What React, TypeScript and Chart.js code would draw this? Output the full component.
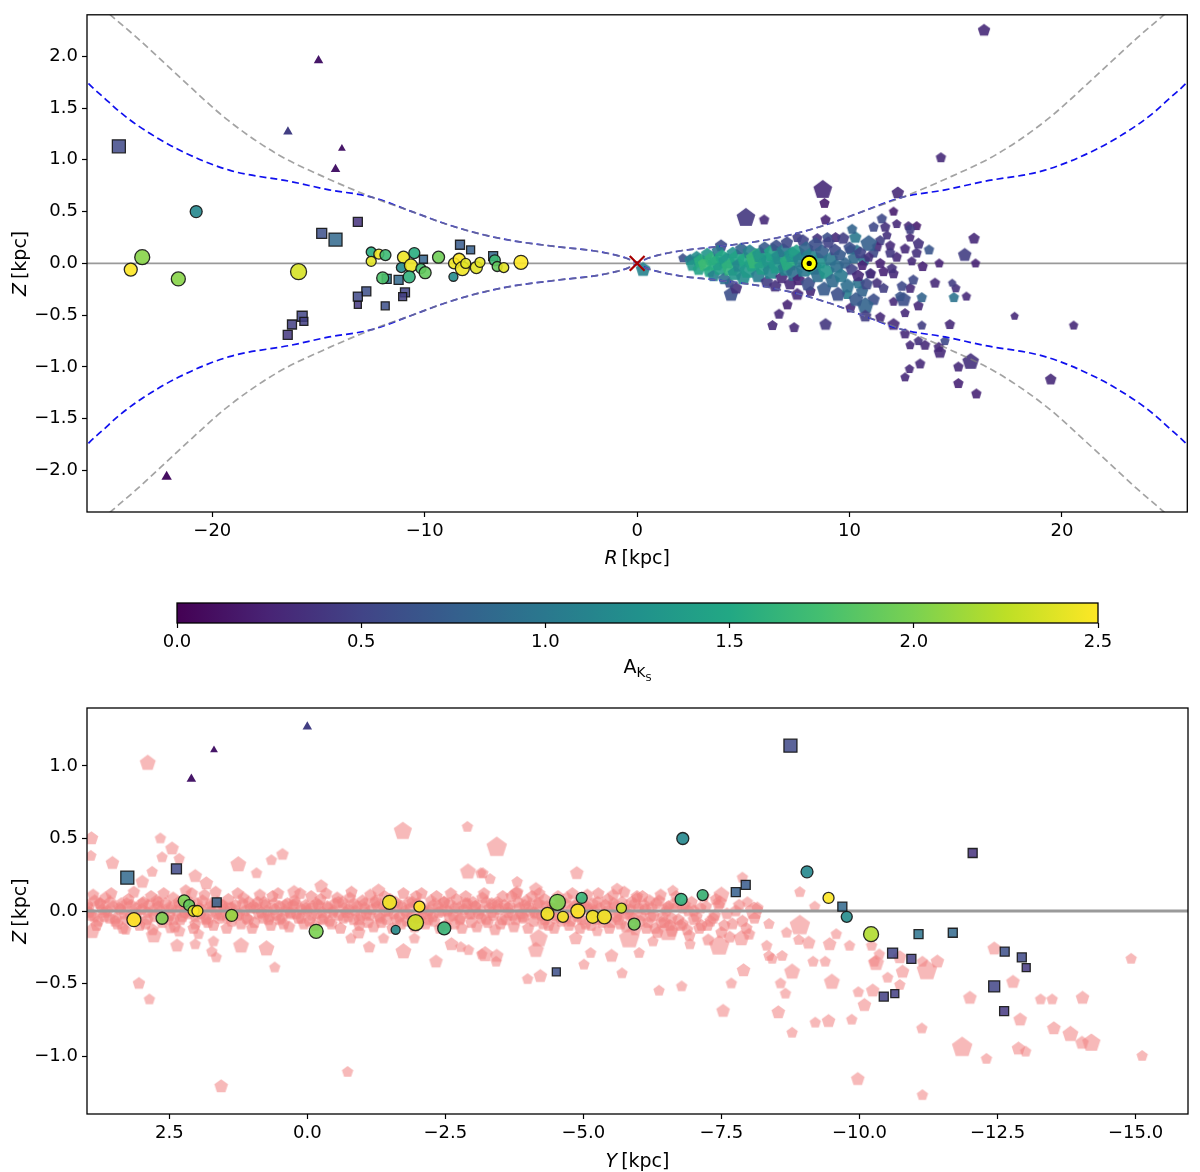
import { useEffect, useRef } from "react";
import Chart from "chart.js/auto";

const FONT = "'DejaVu Sans', 'Liberation Sans', sans-serif";
const TICK_SIZE = 18;
const TITLE_SIZE = 19;

// axis limits and tick values
const rLimits = [-25.9, 25.9];
const zLimitsTop = [-2.4, 2.4];
const yLimits = [-15.95, 3.99];
const zLimitsBottom = [-1.4, 1.4];
const akLimits = [0, 2.5];
const rTicks = [-20, -10, 0, 10, 20];
const zTicksTop = [-2, -1.5, -1, -0.5, 0, 0.5, 1, 1.5, 2];
const yTicks = [2.5, 0, -2.5, -5, -7.5, -10, -12.5, -15];
const zTicksBottom = [-1, -0.5, 0, 0.5, 1];
const akTicks = [0, 0.5, 1, 1.5, 2, 2.5];

// boundary curves, R <= 0 half (mirrored for R > 0 and for Z < 0)
const grayCurveR = [-25.6, -24.8, -23.5, -21.6, -19.25, -16.9, -14.8, -12.5, -10.6, -9.0, -7.5, -5.9, -3.7, -2.0, -1.0, -0.5, 0];
const grayCurveZ = [2.55, 2.4, 2.17, 1.81, 1.38, 1.05, 0.84, 0.64, 0.5, 0.38, 0.29, 0.22, 0.16, 0.12, 0.08, 0.05, 0.01];
const blueCurveR = [-26.5, -25.8, -25.1, -24.4, -23.5, -21.6, -19.2, -16.3, -14.5, -12.5, -10.6, -9.0, -7.5, -5.9, -3.7, -2.0, -1.0, -0.5, 0];
const blueCurveZ = [1.9, 1.73, 1.6, 1.47, 1.33, 1.1, 0.9, 0.79, 0.71, 0.64, 0.5, 0.38, 0.29, 0.22, 0.16, 0.12, 0.08, 0.05, 0.01];

// Galactic centre and Sun
const gcR = [0];
const gcZ = [0];
const sunR = [8.1];
const sunZ = [0];

// top panel: [R, Z, A_Ks, size]
const topCircles = [
  [-23.84, -0.06, 2.5, 6.5], [-23.3, 0.06, 2.05, 7.5], [-21.6, -0.15, 2.05, 7], [-20.76, 0.5, 1.15, 6],
  [-15.94, -0.08, 2.35, 8], [-12.52, 0.11, 1.55, 5], [-12.52, 0.02, 2.4, 5], [-12.16, 0.09, 2.45, 5],
  [-11.85, 0.08, 1.7, 5.5], [-11.98, -0.14, 1.8, 6], [-11.0, 0.06, 2.45, 6], [-11.1, -0.04, 1.2, 5],
  [-10.65, -0.02, 2.45, 6.5], [-10.49, 0.1, 1.55, 5.5], [-10.73, -0.13, 1.6, 6], [-10.18, -0.05, 1.75, 5],
  [-9.98, -0.09, 1.9, 6], [-9.35, 0.06, 1.95, 6], [-8.65, -0.13, 1.2, 4.5], [-8.62, 0.0, 2.45, 5.5],
  [-8.38, 0.04, 2.5, 6], [-8.23, -0.05, 2.45, 7], [-8.07, 0.0, 2.4, 5], [-7.57, -0.04, 2.4, 6],
  [-7.4, 0.01, 2.4, 5], [-6.7, 0.03, 1.7, 5.5], [-6.59, -0.03, 1.9, 5], [-6.28, -0.04, 2.4, 5],
  [-5.47, 0.01, 2.5, 7],
];

const topSquares = [
  [-24.4, 1.13, 0.55, 13], [-13.15, 0.4, 0.35, 9], [-14.85, 0.29, 0.6, 10], [-14.2, 0.23, 0.85, 13],
  [-8.34, 0.18, 0.7, 9], [-7.84, 0.13, 0.75, 8], [-6.78, 0.07, 0.85, 9], [-10.06, 0.04, 0.8, 8],
  [-11.79, -0.15, 0.95, 9], [-11.23, -0.16, 0.85, 9], [-12.75, -0.27, 0.6, 9], [-13.15, -0.32, 0.55, 9],
  [-13.15, -0.4, 0.4, 7], [-11.86, -0.41, 0.6, 8], [-10.93, -0.28, 0.5, 9], [-11.04, -0.32, 0.45, 8],
  [-15.77, -0.51, 0.5, 10], [-15.69, -0.56, 0.45, 8], [-16.25, -0.59, 0.45, 9], [-16.45, -0.69, 0.4, 9],
];

const topTriangles = [
  [-22.15, -2.06, 0.1, 6], [-16.44, 1.27, 0.45, 5.5], [-15.0, 1.96, 0.15, 5.5], [-13.9, 1.11, 0.15, 4.5],
  [-14.2, 0.91, 0.15, 5.5],
];

const topPentagons = [
  [8.74, 0.71, 0.3, 9], [8.82, 0.58, 0.2, 5], [5.12, 0.44, 0.4, 9], [5.98, 0.42, 0.3, 5], [8.87, 0.42, 0.25, 5],
  [12.27, 0.68, 0.3, 6], [12.07, 0.5, 0.2, 4.5], [11.52, 0.43, 0.55, 5], [15.86, 0.24, 0.3, 5.5], [15.42, 0.08, 0.45, 6.5],
  [15.93, 0.0, 0.25, 4.5], [14.22, 0.0, 0.25, 4.5], [14.91, -0.33, 0.95, 5], [15.5, -0.32, 0.3, 4.5], [15.0, -0.24, 0.35, 4.5],
  [14.83, -0.19, 0.45, 4], [14.02, -0.19, 0.3, 5], [14.72, -0.59, 0.3, 5], [15.7, -0.95, 0.35, 8], [15.12, -1.0, 0.3, 5],
  [15.12, -1.16, 0.25, 5], [15.97, -1.26, 0.25, 5], [14.25, -0.86, 0.3, 6], [14.49, -0.75, 0.55, 4.5], [13.55, -0.79, 0.3, 5],
  [13.32, -0.97, 0.3, 5], [12.82, -1.02, 0.3, 4.5], [12.61, -1.1, 0.3, 4.5], [12.85, -0.79, 0.3, 4.5], [12.61, -0.68, 0.3, 5],
  [13.24, -0.75, 0.35, 4.5], [12.07, -0.59, 0.3, 6], [13.24, -0.41, 0.3, 5], [13.4, -0.6, 0.45, 4.5], [12.61, -0.48, 0.3, 4.5],
  [12.85, -0.24, 0.3, 5], [13.0, -0.16, 0.55, 5], [13.4, -0.33, 0.8, 5], [12.54, -0.35, 0.6, 7], [12.07, -0.37, 0.3, 4.5],
  [12.46, -0.22, 0.55, 5], [12.07, -0.1, 0.3, 5], [12.93, 0.02, 0.3, 4.5], [13.44, -0.03, 0.25, 5], [13.74, 0.13, 0.65, 5],
  [13.24, 0.19, 0.35, 5.5], [12.85, 0.25, 0.3, 4.5], [13.16, 0.1, 0.35, 5], [12.61, 0.14, 0.3, 5], [12.22, 0.06, 0.3, 5],
  [12.77, 0.36, 0.3, 4.5], [13.16, 0.36, 0.2, 4.5], [12.85, 0.33, 0.45, 5], [11.13, 0.35, 0.55, 5], [11.68, 0.35, 0.35, 5],
  [12.22, 0.38, 0.3, 4.5], [11.76, 0.27, 0.35, 4.5], [11.44, 0.22, 0.45, 5], [11.91, 0.17, 0.3, 5], [11.29, 0.16, 0.3, 5],
  [11.91, 0.1, 0.4, 5], [11.44, 0.0, 0.25, 5], [11.99, -0.05, 0.35, 5], [11.6, -0.08, 0.25, 5], [11.13, 0.1, 0.55, 5],
  [10.9, 0.19, 0.75, 8], [10.27, 0.25, 1.0, 6], [10.35, 0.13, 0.95, 5], [10.67, 0.03, 0.95, 6], [10.04, 0.13, 0.85, 5],
  [10.12, 0.33, 0.8, 5], [10.97, -0.1, 0.6, 5], [11.29, -0.19, 0.35, 5], [11.6, -0.24, 0.45, 5], [11.13, -0.35, 0.6, 6],
  [12.38, -0.32, 0.65, 5], [10.74, -0.41, 0.8, 8], [10.74, -0.51, 0.45, 6], [11.44, -0.52, 0.3, 5], [10.04, -0.43, 0.3, 5],
  [10.59, -0.27, 0.8, 6], [10.43, -0.19, 0.95, 6], [9.88, -0.3, 1.05, 5], [7.07, -0.4, 0.25, 5], [7.54, -0.3, 0.3, 6],
  [6.68, -0.49, 0.3, 5], [6.37, -0.6, 0.3, 5], [7.39, -0.62, 0.3, 5], [8.87, -0.59, 0.4, 6], [8.16, -0.27, 0.3, 5],
  [4.42, -0.3, 0.6, 7], [4.65, -0.24, 0.35, 6], [4.34, -0.19, 0.55, 5], [3.95, 0.17, 0.55, 6], [7.54, 0.25, 0.45, 5],
  [8.48, 0.24, 0.35, 5], [9.34, 0.25, 0.3, 5], [8.95, 0.25, 0.6, 5], [2.15, 0.05, 0.6, 4.5], [2.47, 0.03, 1.15, 5],
  [2.86, 0.03, 1.3, 6], [0.28, -0.06, 1.1, 7], [16.33, 2.25, 0.3, 6], [14.3, 1.02, 0.3, 5], [19.47, -1.12, 0.3, 5.5],
  [20.55, -0.6, 0.3, 4.5], [17.77, -0.51, 0.3, 4], [14.2, -0.81, 0.3, 5],
  // dense disc band
  [2.5, 0.04, 1.0, 5], [2.6, -0.02, 1.3, 6], [2.8, 0.07, 1.2, 5], [2.9, -0.06, 1.45, 6], [3.0, 0.02, 1.55, 7],
  [3.2, -0.01, 1.7, 7], [3.3, 0.09, 1.3, 6], [3.4, -0.08, 1.5, 6], [3.5, 0.04, 1.6, 7], [3.6, -0.12, 1.1, 6],
  [3.7, 0.0, 1.55, 8], [3.8, 0.12, 1.0, 6], [3.9, -0.05, 1.4, 7], [4.0, 0.06, 1.5, 7], [4.1, -0.15, 0.9, 6],
  [4.2, 0.02, 1.35, 8], [4.4, -0.04, 1.6, 9], [4.5, 0.1, 1.25, 6], [4.6, -0.1, 1.3, 7], [4.7, 0.05, 1.45, 8],
  [4.8, -0.02, 1.15, 7], [4.9, 0.14, 0.8, 6], [5.0, -0.14, 1.2, 7], [5.1, 0.03, 1.5, 8], [5.2, -0.07, 1.35, 8],
  [5.3, 0.11, 1.1, 7], [5.45, -0.01, 1.45, 8], [5.6, 0.04, 1.65, 10], [5.7, -0.12, 1.05, 7], [5.8, 0.08, 1.3, 8],
  [5.9, -0.04, 1.4, 8], [6.0, 0.15, 0.7, 6], [6.1, -0.18, 0.45, 6], [6.2, 0.02, 1.3, 8], [6.3, -0.08, 1.15, 8],
  [6.4, 0.1, 1.45, 9], [6.5, -0.22, 0.35, 6], [6.55, 0.17, 0.6, 6], [6.6, -0.02, 1.35, 9], [6.7, 0.06, 1.2, 8],
  [6.8, -0.14, 0.3, 6], [6.9, 0.12, 1.0, 7], [7.0, -0.05, 1.1, 8], [7.05, 0.2, 0.55, 6], [7.15, 0.01, 1.55, 9],
  [7.2, -0.2, 0.3, 6], [7.3, 0.08, 1.25, 8], [7.4, -0.1, 0.9, 8], [7.5, 0.1, 1.4, 8], [7.6, -0.16, 0.25, 6],
  [7.7, 0.03, 1.1, 8], [7.8, 0.22, 0.5, 6], [7.85, -0.06, 1.0, 8], [7.95, 0.14, 0.8, 7], [8.05, -0.2, 0.6, 7],
  [8.15, 0.07, 1.1, 8], [8.3, -0.04, 1.2, 8], [8.4, 0.18, 0.6, 7], [8.5, -0.12, 0.9, 7], [8.55, 0.02, 1.25, 8],
  [8.7, 0.11, 0.75, 7], [8.8, -0.25, 0.7, 7], [8.9, -0.08, 1.3, 8], [9.0, 0.2, 0.5, 6], [9.1, 0.04, 1.0, 7],
  [9.2, -0.17, 0.85, 7], [9.3, 0.13, 0.55, 6], [9.4, -0.03, 0.9, 7], [9.45, -0.3, 0.6, 7], [9.55, 0.08, 0.7, 6],
  [9.6, -0.12, 1.0, 7], [9.7, 0.24, 0.45, 6], [9.8, 0.0, 0.8, 6], [9.9, -0.22, 0.9, 7], [10.0, 0.15, 0.6, 6],
  [10.1, -0.06, 0.5, 6], [10.2, 0.05, 0.85, 6], [10.3, -0.35, 0.7, 7], [10.4, -0.12, 0.3, 6], [10.5, 0.1, 0.5, 6],
  [10.6, -0.02, 0.25, 5], [10.8, -0.2, 0.55, 6], [10.9, 0.06, 0.35, 5], [11.0, -0.1, 0.3, 5],
];

// bottom panel: [Y, Z, A_Ks, size]
const bottomCircles = [
  [3.14, -0.06, 2.5, 7], [2.63, -0.05, 2.0, 6], [2.23, 0.07, 2.0, 6], [2.14, 0.04, 1.9, 5.5],
  [2.06, 0.0, 2.4, 5.5], [1.99, 0.0, 2.5, 5.5], [1.37, -0.03, 2.1, 6], [-0.16, -0.14, 2.0, 7],
  [-1.49, 0.06, 2.45, 7], [-2.03, 0.03, 2.5, 5.5], [-1.96, -0.08, 2.3, 8], [-1.6, -0.13, 1.2, 4.5],
  [-2.48, -0.12, 1.65, 6.5], [-4.35, -0.02, 2.45, 6.5], [-4.53, 0.06, 2.0, 8], [-4.63, -0.04, 2.45, 5.5],
  [-4.97, 0.09, 1.65, 5.5], [-4.9, 0.0, 2.5, 7], [-5.17, -0.04, 2.45, 6.5], [-5.38, -0.04, 2.45, 7],
  [-5.69, 0.02, 2.3, 5], [-5.92, -0.09, 1.95, 6], [-6.8, 0.5, 1.15, 6], [-6.77, 0.08, 1.6, 6],
  [-7.16, 0.11, 1.65, 5.5], [-9.05, 0.27, 1.15, 6], [-9.44, 0.09, 2.5, 5.5], [-9.77, -0.04, 1.2, 5.5],
  [-10.21, -0.16, 2.2, 7.5],
];

const bottomSquares = [
  [3.26, 0.23, 0.85, 13], [2.37, 0.29, 0.55, 10], [1.64, 0.06, 0.8, 9], [-4.51, -0.42, 0.6, 8],
  [-8.75, 1.14, 0.55, 13], [-7.76, 0.13, 0.75, 9], [-7.94, 0.18, 0.7, 9], [-9.69, 0.03, 0.85, 9],
  [-12.05, 0.4, 0.35, 9], [-11.07, -0.16, 0.95, 9], [-11.69, -0.15, 0.85, 9], [-10.6, -0.29, 0.5, 10],
  [-10.94, -0.33, 0.45, 9], [-12.63, -0.28, 0.6, 9], [-12.94, -0.32, 0.55, 9], [-13.02, -0.39, 0.4, 8],
  [-12.44, -0.52, 0.5, 11], [-12.62, -0.69, 0.4, 9], [-10.44, -0.59, 0.45, 9], [-10.64, -0.57, 0.45, 8],
];

const bottomTriangles = [
  [0.0, 1.27, 0.45, 5.5], [1.69, 1.11, 0.15, 4.5], [2.1, 0.91, 0.15, 5.5],
];

// bottom panel comparison sample: [Y, Z, size]
const pinkScatter = [
  [2.89, 1.02, 7], [3.91, 0.5, 6], [3.92, 0.38, 5], [2.66, 0.5, 5], [2.45, 0.43, 6], [2.63, 0.37, 5], [2.32, 0.36, 5],
  [3.53, 0.33, 6], [2.81, 0.27, 5], [2.99, 0.2, 6], [2.03, 0.24, 6], [1.83, 0.19, 6], [1.25, 0.32, 7], [0.92, 0.26, 5],
  [0.65, 0.35, 5], [0.45, 0.39, 5.5], [-0.25, 0.17, 6], [-1.73, 0.55, 8], [-2.9, 0.58, 5], [-2.91, 0.27, 7], [-1.29, 0.14, 6],
  [0.24, 0.13, 6], [3.9, -0.14, 7], [3.29, -0.13, 5], [2.78, -0.17, 7], [2.48, -0.12, 5], [2.32, -0.14, 5.5], [2.36, -0.24, 6],
  [1.97, -0.16, 5], [2.03, -0.23, 5], [1.73, -0.28, 5], [1.65, -0.32, 5], [1.7, -0.21, 5], [1.2, -0.24, 7], [0.74, -0.26, 7],
  [0.59, -0.39, 5], [3.05, -0.5, 5.5], [2.86, -0.61, 5], [1.56, -1.21, 6], [-0.73, -1.11, 5], [-0.79, -0.19, 5], [-0.93, -0.15, 6],
  [-1.12, -0.25, 5.5], [-1.38, -0.19, 5], [-1.74, -0.28, 7], [-1.94, -0.19, 5], [-2.33, -0.35, 6], [-2.61, -0.23, 6], [-2.78, -0.25, 5],
  [-2.92, -0.27, 5], [-3.16, -0.3, 5], [-3.14, 0.26, 5], [-3.43, 0.44, 9], [-3.18, 0.26, 5], [-3.31, 0.22, 5], [-3.8, 0.2, 5],
  [-4.88, 0.26, 6], [-4.14, 0.15, 6], [-3.78, 0.12, 6], [-5.61, 0.15, 5.5], [-5.97, 0.09, 5], [-4.19, -0.19, 8], [-4.14, -0.27, 7],
  [-3.22, -0.3, 7], [-3.43, -0.31, 6], [-3.42, -0.35, 5], [-3.99, -0.47, 5], [-4.22, -0.45, 6], [-5.01, -0.37, 5], [-5.13, -0.29, 5],
  [-5.51, -0.31, 6], [-4.86, -0.19, 6], [-5.25, -0.14, 5], [-5.7, -0.43, 5], [-6.01, -0.29, 5], [-5.83, -0.19, 9], [-6.26, -0.21, 5],
  [-6.37, -0.55, 5], [-6.78, -0.52, 5], [-6.54, -0.14, 9], [-6.93, -0.23, 5], [-7.46, -0.24, 9], [-7.53, -0.69, 6], [-7.68, -0.5, 5],
  [-7.9, -0.41, 6], [-7.86, -0.19, 7], [-7.5, 0.11, 7], [-7.47, 0.06, 6], [-7.97, 0.06, 5], [-8.09, 0.0, 8], [-7.88, 0.23, 5],
  [-6.62, 0.14, 5], [-8.36, -0.09, 5], [-8.68, -0.15, 5], [-8.92, -0.1, 9], [-8.9, -0.2, 5], [-9.08, -0.22, 6], [-8.32, -0.24, 5],
  [-8.6, -0.31, 5], [-8.36, -0.31, 5], [-8.42, -0.33, 5], [-8.78, -0.42, 7], [-8.57, -0.5, 5], [-8.66, -0.57, 5], [-8.53, -0.7, 6],
  [-8.78, -0.84, 5], [-9.2, -0.77, 5], [-9.44, -0.76, 6], [-9.5, -0.49, 7], [-9.16, -0.35, 5], [-9.38, -0.35, 5], [-9.46, -0.23, 6],
  [-9.58, -0.16, 5], [-9.82, -0.24, 5], [-8.92, 0.13, 5], [-9.19, 0.03, 5], [-9.86, -0.75, 5], [-9.98, -0.56, 5], [-10.09, -0.65, 6],
  [-9.97, -1.16, 6], [-10.24, -0.55, 6], [-10.27, -0.35, 5], [-10.3, -0.36, 7], [-10.36, -0.3, 5], [-10.22, -0.24, 5], [-10.51, -0.46, 5],
  [-10.73, -0.51, 5], [-10.78, -0.42, 6], [-10.73, -0.32, 6], [-11.22, -0.41, 9], [-11.14, -0.35, 5], [-11.41, -0.35, 6], [-11.13, -0.81, 5],
  [-11.14, -1.27, 5], [-11.86, -0.94, 9], [-12.0, -0.6, 6], [-12.3, -1.02, 5], [-12.44, -0.26, 6], [-12.78, -0.49, 6], [-12.91, -0.75, 6],
  [-12.88, -0.95, 6], [-13.01, -0.97, 5], [-13.28, -0.61, 5], [-13.49, -0.61, 5], [-13.52, -0.81, 6], [-13.82, -0.85, 7], [-14.03, -0.91, 6],
  [-14.2, -0.91, 8], [-14.04, -0.6, 6], [-14.92, -0.33, 5], [-15.12, -1.0, 5],
];

// dense comparison band along the plane: [Y, Z]
const pinkBand = [
  [3.98, 0.04], [3.92, -0.03], [3.85, 0.07], [3.79, -0.07], [3.71, 0.01], [3.66, 0.09], [3.58, -0.05], [3.52, 0.03], [3.44, -0.09], [3.37, 0.05],
  [3.31, -0.02], [3.24, 0.08], [3.17, -0.06], [3.1, 0.02], [3.04, -0.1], [2.97, 0.06], [2.9, -0.01], [2.83, 0.1], [2.77, -0.04], [2.7, 0.03],
  [2.63, -0.08], [2.57, 0.05], [2.5, -0.03], [2.43, 0.09], [2.36, 0.0], [2.3, -0.06], [2.23, 0.04], [2.16, -0.02], [2.09, 0.12], [2.03, -0.09],
  [1.96, 0.02], [1.9, 0.07], [1.83, -0.05], [1.76, 0.03], [1.7, -0.1], [1.63, 0.06], [1.56, -0.03], [1.5, 0.01], [1.43, 0.08], [1.37, -0.07],
  [1.3, 0.04], [1.23, -0.02], [1.16, 0.09], [1.1, -0.05], [1.03, 0.02], [0.96, -0.08], [0.9, 0.06], [0.83, -0.01], [0.76, 0.04], [0.7, -0.06],
  [0.63, 0.1], [0.56, -0.03], [0.5, 0.03], [0.43, -0.09], [0.36, 0.05], [0.3, -0.02], [0.23, 0.07], [0.16, -0.05], [0.1, 0.01], [0.03, 0.04],
  [-0.04, -0.07], [-0.1, 0.03], [-0.17, -0.02], [-0.24, 0.08], [-0.3, -0.05], [-0.37, 0.02], [-0.44, -0.09], [-0.5, 0.05], [-0.57, -0.03], [-0.64, 0.06],
  [-0.7, -0.01], [-0.77, 0.09], [-0.84, -0.06], [-0.9, 0.03], [-0.97, -0.03], [-1.04, 0.05], [-1.1, -0.08], [-1.17, 0.01], [-1.24, 0.07], [-1.3, -0.04],
  [-1.37, 0.03], [-1.44, -0.06], [-1.5, 0.08], [-1.57, -0.02], [-1.64, 0.04], [-1.7, -0.09], [-1.77, 0.0], [-1.84, 0.06], [-1.9, -0.04], [-1.97, 0.1],
  [-2.04, -0.05], [-2.1, 0.02], [-2.17, -0.02], [-2.24, 0.07], [-2.3, -0.07], [-2.37, 0.03], [-2.44, 0.0], [-2.5, -0.1], [-2.57, 0.05], [-2.64, -0.03],
  [-2.7, 0.08], [-2.77, -0.05], [-2.84, 0.01], [-2.9, 0.05], [-2.97, -0.08], [-3.04, 0.03], [-3.1, -0.02], [-3.17, 0.09], [-3.24, -0.06], [-3.3, 0.02],
  [-3.37, -0.03], [-3.44, 0.06], [-3.5, -0.09], [-3.57, 0.04], [-3.64, -0.01], [-3.7, 0.1], [-3.77, -0.06], [-3.84, 0.02], [-3.9, -0.04], [-3.97, 0.07],
  [-4.04, 0.0], [-4.1, -0.07], [-4.17, 0.05], [-4.24, -0.03], [-4.3, 0.08], [-4.37, -0.1], [-4.44, 0.02], [-4.5, -0.05], [-4.57, 0.04], [-4.64, -0.02],
  [-4.7, 0.09], [-4.77, -0.07], [-4.84, 0.03], [-4.9, -0.04], [-4.97, 0.06], [-5.04, -0.09], [-5.1, 0.01], [-5.17, 0.05], [-5.24, -0.06], [-5.3, 0.02],
  [-5.37, -0.03], [-5.44, 0.08], [-5.5, -0.08], [-5.57, 0.03], [-5.64, -0.02], [-5.7, 0.06], [-5.77, -0.11], [-5.84, 0.01], [-5.9, -0.05], [-5.97, 0.1],
  [-6.04, -0.03], [-6.1, 0.04], [-6.17, -0.08], [-6.24, 0.02], [-6.3, -0.12], [-6.37, 0.07], [-6.44, -0.04], [-6.5, 0.0], [-6.57, -0.1], [-6.64, 0.05],
  [-6.72, -0.06], [-6.8, 0.02], [-6.88, -0.13], [-6.96, 0.06], [-7.05, -0.04], [-7.14, -0.1], [-7.22, 0.03], [-7.3, -0.07], [-7.4, 0.08], [-7.5, -0.15],
  [-7.6, -0.02], [-7.7, -0.09], [-7.82, 0.04], [-7.95, -0.12], [-8.1, -0.05],
];

// second, slightly wider layer of the band: [Y, Z]
const pinkBandOuter = [
  [3.95, -0.01], [3.88, 0.11], [3.82, -0.1], [3.75, 0.05], [3.68, -0.04], [3.62, 0.0], [3.55, 0.12], [3.48, -0.07], [3.41, 0.02], [3.34, -0.12],
  [3.27, 0.05], [3.2, -0.03], [3.14, 0.13], [3.07, -0.06], [3.0, 0.01], [2.93, -0.09], [2.87, 0.04], [2.8, -0.13], [2.73, 0.07], [2.66, 0.0],
  [2.6, 0.12], [2.53, -0.06], [2.46, 0.02], [2.4, -0.11], [2.33, 0.06], [2.26, -0.04], [2.2, 0.14], [2.13, 0.0], [2.06, -0.12], [2.0, 0.05],
  [1.93, -0.02], [1.86, 0.11], [1.8, -0.08], [1.73, 0.0], [1.66, 0.13], [1.6, -0.05], [1.53, 0.04], [1.46, -0.12], [1.4, 0.02], [1.33, -0.02],
  [1.26, 0.12], [1.2, -0.09], [1.13, 0.0], [1.06, 0.06], [1.0, -0.12], [0.93, 0.02], [0.86, 0.11], [0.8, -0.05], [0.73, 0.0], [0.66, -0.1],
  [0.6, 0.05], [0.53, 0.12], [0.46, -0.05], [0.4, 0.0], [0.33, -0.11], [0.26, 0.04], [0.2, -0.02], [0.13, 0.12], [0.06, -0.09], [0.0, 0.0],
  [-0.07, 0.1], [-0.14, -0.1], [-0.2, 0.04], [-0.27, -0.01], [-0.34, 0.12], [-0.4, -0.07], [-0.47, 0.0], [-0.54, 0.09], [-0.6, -0.12], [-0.67, 0.02],
  [-0.74, -0.04], [-0.8, 0.13], [-0.87, 0.0], [-0.94, -0.1], [-1.0, 0.07], [-1.07, -0.02], [-1.14, 0.11], [-1.2, -0.11], [-1.27, 0.03], [-1.34, -0.08],
  [-1.4, 0.1], [-1.47, 0.0], [-1.54, -0.12], [-1.6, 0.06], [-1.67, -0.04], [-1.74, 0.12], [-1.8, -0.07], [-1.87, 0.02], [-1.94, -0.11], [-2.0, 0.05],
  [-2.07, 0.12], [-2.14, -0.09], [-2.2, 0.0], [-2.27, -0.04], [-2.34, 0.1], [-2.4, -0.12], [-2.47, 0.06], [-2.54, 0.0], [-2.6, 0.12], [-2.67, -0.09],
  [-2.74, 0.02], [-2.8, -0.12], [-2.87, 0.1], [-2.94, -0.02], [-3.0, 0.06], [-3.07, -0.11], [-3.14, 0.0], [-3.2, 0.12], [-3.27, -0.08], [-3.34, 0.05],
  [-3.4, -0.13], [-3.47, 0.01], [-3.54, 0.1], [-3.6, -0.06], [-3.67, 0.03], [-3.74, -0.11], [-3.8, 0.13], [-3.87, -0.02], [-3.94, 0.04], [-4.0, -0.12],
  [-4.07, 0.1], [-4.14, -0.02], [-4.2, 0.12], [-4.27, -0.09], [-4.34, 0.03], [-4.4, 0.0], [-4.47, -0.12], [-4.54, 0.1], [-4.6, -0.07], [-4.67, 0.05],
  [-4.74, -0.1], [-4.8, 0.12], [-4.87, -0.01], [-4.94, -0.12], [-5.0, 0.03], [-5.07, 0.11], [-5.14, -0.1], [-5.2, 0.0], [-5.27, 0.12], [-5.34, -0.08],
  [-5.4, 0.04], [-5.47, -0.12], [-5.54, 0.11], [-5.6, -0.04], [-5.67, -0.09], [-5.74, 0.13], [-5.8, -0.02], [-5.87, 0.06], [-5.94, -0.13], [-6.0, 0.02],
  [-6.07, 0.1], [-6.14, -0.12], [-6.2, 0.07], [-6.27, -0.03], [-6.34, -0.15], [-6.4, 0.11], [-6.47, -0.08], [-6.54, 0.03], [-6.6, -0.14], [-6.68, 0.1],
  [-6.76, -0.1], [-6.84, 0.04], [-6.92, -0.17], [-7.0, 0.0], [-7.1, -0.12], [-7.18, 0.1], [-7.26, -0.2], [-7.35, -0.05], [-7.45, 0.04], [-7.55, -0.1],
  [-7.65, -0.18], [-7.76, 0.0], [-7.88, -0.07], [-8.0, -0.16], [-8.15, 0.02],
];

// third, narrow core layer of the band: [Y, Z]
const pinkBandCore = [
  [3.96, 0.02], [3.86, -0.04], [3.76, 0.05], [3.67, -0.01], [3.57, 0.06], [3.47, -0.05], [3.38, 0.01], [3.28, -0.06], [3.19, 0.04], [3.09, -0.02],
  [2.99, 0.05], [2.89, -0.06], [2.8, 0.0], [2.7, 0.06], [2.61, -0.04], [2.51, 0.02], [2.42, -0.06], [2.32, 0.04], [2.22, -0.01], [2.13, 0.06],
  [2.03, -0.04], [1.93, 0.01], [1.84, -0.06], [1.74, 0.05], [1.65, -0.02], [1.55, 0.04], [1.45, -0.05], [1.36, 0.02], [1.26, -0.03], [1.17, 0.05],
  [1.07, -0.06], [0.98, 0.03], [0.88, -0.02], [0.78, 0.06], [0.69, -0.04], [0.59, 0.01], [0.5, -0.06], [0.4, 0.04], [0.31, -0.01], [0.21, 0.05],
  [0.11, -0.05], [0.02, 0.02], [-0.08, -0.03], [-0.17, 0.05], [-0.27, -0.06], [-0.36, 0.03], [-0.46, -0.01], [-0.56, 0.06], [-0.65, -0.05], [-0.75, 0.01],
  [-0.84, 0.05], [-0.94, -0.06], [-1.04, 0.02], [-1.13, -0.03], [-1.23, 0.06], [-1.32, -0.05], [-1.42, 0.0], [-1.52, 0.05], [-1.61, -0.06], [-1.71, 0.03],
  [-1.8, -0.02], [-1.9, 0.06], [-2.0, -0.05], [-2.09, 0.01], [-2.19, -0.06], [-2.28, 0.04], [-2.38, -0.01], [-2.48, 0.06], [-2.57, -0.04], [-2.67, 0.02],
  [-2.76, -0.06], [-2.86, 0.05], [-2.96, -0.02], [-3.05, 0.03], [-3.15, -0.05], [-3.24, 0.06], [-3.34, -0.01], [-3.44, 0.04], [-3.53, -0.06], [-3.63, 0.02],
  [-3.72, -0.03], [-3.82, 0.06], [-3.92, -0.05], [-4.01, 0.03], [-4.11, -0.01], [-4.2, 0.05], [-4.3, -0.06], [-4.4, 0.02], [-4.49, -0.03], [-4.59, 0.06],
  [-4.68, -0.05], [-4.78, 0.01], [-4.88, 0.05], [-4.97, -0.06], [-5.07, 0.03], [-5.16, -0.02], [-5.26, 0.06], [-5.36, -0.05], [-5.45, 0.0], [-5.55, 0.05],
  [-5.64, -0.06], [-5.74, 0.02], [-5.84, -0.03], [-5.93, 0.05], [-6.03, -0.07], [-6.12, 0.01], [-6.22, -0.04], [-6.32, 0.05], [-6.41, -0.08], [-6.51, 0.02],
  [-6.6, -0.05], [-6.7, 0.03], [-6.8, -0.09], [-6.9, 0.0], [-7.0, -0.06], [-7.12, 0.02], [-7.25, -0.1], [-7.38, -0.03],
];

const VIRIDIS = ["#440154", "#482475", "#414487", "#355f8d", "#2a788e", "#21918c", "#22a884", "#44bf70", "#7ad151", "#bddf26", "#fde725"];

function hexRgb(h: string) {
  return [parseInt(h.slice(1, 3), 16), parseInt(h.slice(3, 5), 16), parseInt(h.slice(5, 7), 16)];
}

function viridis(a: number, alpha = 1) {
  const t = (Math.min(akLimits[1], Math.max(akLimits[0], a)) / akLimits[1]) * 10;
  const i = Math.min(9, Math.floor(t));
  const f = t - i;
  const c0 = hexRgb(VIRIDIS[i]);
  const c1 = hexRgb(VIRIDIS[i + 1]);
  const c = c0.map((v, k) => Math.round(v + (c1[k] - v) * f));
  return `rgba(${c[0]},${c[1]},${c[2]},${alpha})`;
}

const pentCache = new Map<string, HTMLCanvasElement>();
function pentagon(r: number, color: string) {
  const key = r + "|" + color;
  const hit = pentCache.get(key);
  if (hit) return hit;
  const c = document.createElement("canvas");
  const size = Math.ceil(2 * r + 2);
  c.width = size;
  c.height = size;
  const ctx = c.getContext("2d")!;
  ctx.fillStyle = color;
  ctx.beginPath();
  for (let i = 0; i < 5; i++) {
    const ang = -Math.PI / 2 + (i * 2 * Math.PI) / 5;
    const px = size / 2 + r * Math.cos(ang);
    const py = size / 2 + r * Math.sin(ang);
    if (i === 0) ctx.moveTo(px, py);
    else ctx.lineTo(px, py);
  }
  ctx.closePath();
  ctx.fill();
  pentCache.set(key, c);
  return c;
}

function fmt(v: number, dec: number) {
  const s = Math.abs(v).toFixed(dec);
  return v < 0 ? "\u2212" + s : s;
}

function pts(xs: number[], ys: number[]) {
  return xs.map((x, i) => ({ x, y: ys[i] }));
}

// full curve through both halves (mirror of the R <= 0 half)
function curve(rs: number[], zs: number[], sign: number) {
  const out: { x: number; y: number }[] = [];
  for (let i = 0; i < rs.length; i++) out.push({ x: rs[i], y: sign * zs[i] });
  for (let i = rs.length - 2; i >= 0; i--) out.push({ x: -rs[i], y: sign * zs[i] });
  return out;
}

type Part = { t: string; italic?: boolean; size?: number; dy?: number; gap?: number };

function drawRich(ctx: CanvasRenderingContext2D, parts: Part[], cx: number, cy: number, rot = 0) {
  ctx.save();
  ctx.translate(cx, cy);
  if (rot) ctx.rotate(rot);
  ctx.fillStyle = "#000";
  ctx.textBaseline = "alphabetic";
  const fonts = parts.map((p) => `${p.italic ? "italic " : ""}${p.size ?? TITLE_SIZE}px ${FONT}`);
  let total = 0;
  const widths = parts.map((p, i) => {
    ctx.font = fonts[i];
    const w = ctx.measureText(p.t).width + (p.gap ?? 0);
    total += w;
    return w;
  });
  let x = -total / 2;
  parts.forEach((p, i) => {
    ctx.font = fonts[i];
    ctx.fillText(p.t, x + (p.gap ?? 0), 7 + (p.dy ?? 0));
    x += widths[i];
  });
  ctx.restore();
}

const framePlugin = {
  id: "frame",
  afterDraw(chart: any) {
    const { ctx, chartArea: a } = chart;
    ctx.save();
    ctx.strokeStyle = "#000";
    ctx.lineWidth = 1.3;
    ctx.strokeRect(a.left, a.top, a.right - a.left, a.bottom - a.top);
    ctx.restore();
  },
};

function titlesPlugin(xParts: Part[] | null, xOffset: number, yParts: Part[] | null) {
  return {
    id: "titles",
    afterDraw(chart: any) {
      const { ctx, chartArea: a } = chart;
      if (xParts) drawRich(ctx, xParts, (a.left + a.right) / 2, a.bottom + xOffset);
      if (yParts) drawRich(ctx, yParts, 19, (a.top + a.bottom) / 2, -Math.PI / 2);
    },
  };
}

function axis(lim: number[], ticks: number[], dec: number, fit: (s: any) => void, extra: any = {}) {
  return {
    type: "linear",
    min: lim[0],
    max: lim[1],
    afterBuildTicks: (s: any) => {
      s.ticks = ticks.map((v) => ({ value: v }));
    },
    afterFit: fit,
    ticks: {
      callback: (v: number) => fmt(v, dec),
      font: { family: FONT, size: TICK_SIZE },
      color: "#000",
      padding: 4,
      maxRotation: 0,
      autoSkip: false,
    },
    grid: { display: true, drawOnChartArea: false, drawTicks: true, tickLength: 5, tickColor: "#000", tickWidth: 1.2 },
    border: { display: false },
    ...extra,
  };
}

function baseOptions(padding: any, scales: any) {
  return {
    responsive: false,
    animation: false,
    events: [],
    layout: { padding },
    plugins: { legend: { display: false }, tooltip: { enabled: false } },
    scales,
  };
}

function markerSet(list: number[][], style: string, alpha: number, edge: boolean, order: number, sideToRadius = false) {
  return {
    data: list.map((p) => ({ x: p[0], y: p[1] })),
    pointStyle: style,
    pointRadius: list.map((p) => (sideToRadius ? p[3] / Math.SQRT2 : p[3])),
    pointBackgroundColor: list.map((p) => viridis(p[2], alpha)),
    pointBorderColor: edge ? "rgba(20,20,20,0.9)" : "rgba(0,0,0,0)",
    pointBorderWidth: edge ? 1.3 : 0,
    order,
  };
}

function lineSet(data: { x: number; y: number }[], color: string, width: number, dash: number[], order: number, smooth = false) {
  return {
    data,
    showLine: true,
    pointRadius: 0,
    borderColor: color,
    borderWidth: width,
    borderDash: dash,
    fill: false,
    tension: smooth ? 0.4 : 0,
    cubicInterpolationMode: smooth ? "monotone" : "default",
    order,
  };
}

function pinkLayer(list: number[][], r: number, color: string, order: number) {
  return {
    data: list.map((p) => ({ x: p[0], y: p[1] })),
    pointStyle: pentagon(r, color),
    pointRadius: r,
    order,
  };
}

function buildTop() {
  const H = 575;
  const gray = "rgba(128,128,128,0.72)";
  const blue = "#1010ee";
  return {
    type: "scatter",
    data: {
      datasets: [
        {
          data: pts(gcR, gcZ),
          pointStyle: "crossRot",
          pointRadius: 10.5,
          pointBorderColor: "#a80000",
          pointBorderWidth: 2.2,
          order: 0,
        },
        { data: pts(sunR, sunZ), pointStyle: "circle", pointRadius: 2.6, pointBackgroundColor: "#000", pointBorderWidth: 0, order: 1 },
        {
          data: pts(sunR, sunZ),
          pointStyle: "circle",
          pointRadius: 7.5,
          pointBackgroundColor: "#ffff00",
          pointBorderColor: "#000",
          pointBorderWidth: 1.6,
          order: 2,
        },
        markerSet(topCircles, "circle", 0.9, true, 3),
        markerSet(topTriangles, "triangle", 1, false, 4),
        markerSet(topSquares, "rect", 0.85, true, 5, true),
        lineSet(curve(grayCurveR, grayCurveZ, 1), gray, 1.7, [7, 4], 6, true),
        lineSet(curve(grayCurveR, grayCurveZ, -1), gray, 1.7, [7, 4], 6, true),
        lineSet(curve(blueCurveR, blueCurveZ, 1), blue, 1.7, [7, 4], 7, true),
        lineSet(curve(blueCurveR, blueCurveZ, -1), blue, 1.7, [7, 4], 7, true),
        {
          data: topPentagons.map((p) => ({ x: p[0], y: p[1] })),
          pointStyle: topPentagons.map((p) => pentagon(p[3] * 1.1, viridis(p[2], 0.9))),
          pointRadius: topPentagons.map((p) => p[3]),
          order: 8,
        },
        lineSet(pts(rLimits, [0, 0]), "#9a9a9a", 1.6, [], 9),
      ],
    },
    options: baseOptions(
      { left: 0, right: 12, top: 8, bottom: 0 },
      {
        x: axis(rLimits, rTicks, 0, (s: any) => {
          s.height = H - 512;
        }),
        y: axis(zLimitsTop, zTicksTop, 1, (s: any) => {
          s.width = 87;
        }),
      }
    ),
    plugins: [
      framePlugin,
      titlesPlugin([{ t: "R", italic: true }, { t: "[kpc]", gap: 4 }], 45, [{ t: "Z", italic: true }, { t: "[kpc]", gap: 4 }]),
    ],
  };
}

function buildColorbar() {
  const H = 130;
  const gradientPlugin = {
    id: "gradient",
    beforeDatasetsDraw(chart: any) {
      const { ctx, chartArea: a, scales } = chart;
      const x0 = scales.x.getPixelForValue(akLimits[0]);
      const x1 = scales.x.getPixelForValue(akLimits[1]);
      const g = ctx.createLinearGradient(x0, 0, x1, 0);
      VIRIDIS.forEach((c, i) => g.addColorStop(i / (VIRIDIS.length - 1), c));
      ctx.save();
      ctx.fillStyle = g;
      ctx.fillRect(x0, a.top, x1 - x0, a.bottom - a.top);
      ctx.restore();
    },
  };
  return {
    type: "scatter",
    data: { datasets: [] },
    options: baseOptions(
      { left: 177, right: 102, top: 33, bottom: 0 },
      {
        x: axis(akLimits, akTicks, 1, (s: any) => {
          s.height = H - 53;
        }),
        y: { type: "linear", min: 0, max: 1, display: false },
      }
    ),
    plugins: [
      gradientPlugin,
      framePlugin,
      titlesPlugin(
        [
          { t: "A", size: 19 },
          { t: "K", size: 13.5, dy: 4 },
          { t: "S", size: 9.5, dy: 7.5 },
        ],
        43,
        null
      ),
    ],
  };
}

function buildBottom() {
  const H = 482;
  const pinkColor = "rgba(240,128,128,0.55)";
  const bandColor = "rgba(240,128,128,0.6)";
  const bandR = 6.5;
  const pinkScale = 1.2;
  return {
    type: "scatter",
    data: {
      datasets: [
        markerSet(bottomTriangles, "triangle", 1, false, 0),
        markerSet(bottomCircles, "circle", 0.9, true, 1),
        markerSet(bottomSquares, "rect", 0.85, true, 2, true),
        lineSet(pts([yLimits[1], yLimits[0]], [0, 0]), "#9a9a9a", 3, [], 3),
        pinkLayer(pinkBandCore, bandR, bandColor, 4),
        pinkLayer(pinkBand, bandR, bandColor, 5),
        pinkLayer(pinkBandOuter, bandR, bandColor, 6),
        {
          data: pinkScatter.map((p) => ({ x: p[0], y: p[1] })),
          pointStyle: pinkScatter.map((p) => pentagon(p[2] * pinkScale, pinkColor)),
          pointRadius: pinkScatter.map((p) => p[2]),
          order: 7,
        },
      ],
    },
    options: baseOptions(
      { left: 0, right: 12, top: 18, bottom: 0 },
      {
        x: axis(yLimits, yTicks, 1, (s: any) => {
          s.height = H - 424;
        }, { reverse: true }),
        y: axis(zLimitsBottom, zTicksBottom, 1, (s: any) => {
          s.width = 87;
        }),
      }
    ),
    plugins: [
      framePlugin,
      titlesPlugin([{ t: "Y", italic: true }, { t: "[kpc]", gap: 4 }], 46, [{ t: "Z", italic: true }, { t: "[kpc]", gap: 4 }]),
    ],
  };
}

function ChartBox({ top, height, build }: { top: number; height: number; build: () => any }) {
  const ref = useRef<HTMLCanvasElement>(null);
  useEffect(() => {
    if (!ref.current) return;
    const chart = new Chart(ref.current, build());
    return () => {
      chart.destroy();
    };
  }, [build]);
  return (
    <div style={{ position: "absolute", left: 0, top, width: 1200, height }}>
      <canvas ref={ref} width={1200} height={height} style={{ width: 1200, height }} />
    </div>
  );
}

export default function App() {
  return (
    <div style={{ position: "absolute", left: 0, top: 0, width: 1200, height: 1172, background: "#fff" }}>
      <ChartBox top={0} height={575} build={buildTop} />
      <ChartBox top={570} height={130} build={buildColorbar} />
      <ChartBox top={690} height={482} build={buildBottom} />
    </div>
  );
}
